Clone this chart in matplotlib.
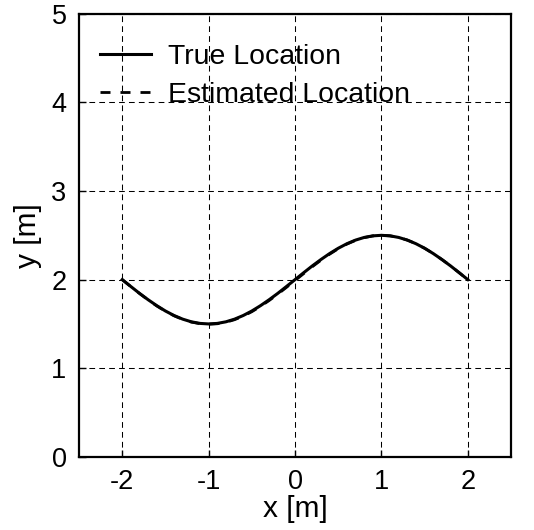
import matplotlib
matplotlib.use("Agg")
import matplotlib.pyplot as plt

plt.rcParams['font.family'] = ['Liberation Sans', 'DejaVu Sans']

x_true = [-2.0, -1.9, -1.8, -1.7, -1.6, -1.5, -1.4, -1.3, -1.2, -1.1, -1.0,
          -0.9, -0.8, -0.7, -0.6, -0.5, -0.4, -0.3, -0.2, -0.1, 0.0,
          0.1, 0.2, 0.3, 0.4, 0.5, 0.6, 0.7, 0.8, 0.9, 1.0,
          1.1, 1.2, 1.3, 1.4, 1.5, 1.6, 1.7, 1.8, 1.9, 2.0]
y_true = [2.000, 1.922, 1.845, 1.773, 1.706, 1.646, 1.595, 1.554, 1.524, 1.506, 1.500,
          1.506, 1.524, 1.554, 1.595, 1.646, 1.706, 1.773, 1.845, 1.922, 2.000,
          2.078, 2.155, 2.227, 2.294, 2.354, 2.405, 2.446, 2.476, 2.494, 2.500,
          2.494, 2.476, 2.446, 2.405, 2.354, 2.294, 2.227, 2.155, 2.078, 2.000]
x_est = [-2.0, -1.9, -1.8, -1.7, -1.6, -1.5, -1.4, -1.3, -1.2, -1.1, -1.0,
         -0.9, -0.8, -0.7, -0.6, -0.5, -0.4, -0.3, -0.2, -0.1, 0.0,
         0.1, 0.2, 0.3, 0.4, 0.5, 0.6, 0.7, 0.8, 0.9, 1.0,
         1.1, 1.2, 1.3, 1.4, 1.5, 1.6, 1.7, 1.8, 1.9, 2.0]
y_est = [2.000, 1.921, 1.844, 1.771, 1.703, 1.643, 1.592, 1.551, 1.521, 1.503, 1.497,
         1.502, 1.519, 1.548, 1.588, 1.638, 1.698, 1.764, 1.836, 1.912, 1.990,
         2.068, 2.146, 2.219, 2.287, 2.349, 2.401, 2.443, 2.474, 2.493, 2.500,
         2.494, 2.476, 2.446, 2.405, 2.354, 2.294, 2.227, 2.155, 2.078, 2.000]

xticks = [-2, -1, 0, 1, 2]
yticks = [0, 1, 2, 3, 4, 5]

fig = plt.figure(figsize=(5.34, 5.30), dpi=100)
ax = fig.add_axes([0.148, 0.138, 0.809, 0.836])
ax.plot(x_true, y_true, color='black', linewidth=2.2, linestyle='-', label='True Location')
ax.plot(x_est, y_est, color='black', linewidth=2.0, linestyle=(0, (3.6, 3.6)), label='Estimated Location')
ax.set_xlim(-2.5, 2.5)
ax.set_ylim(0, 5)
ax.set_xticks(xticks)
ax.set_yticks(yticks)
ax.set_xticklabels([str(t) for t in xticks])
ax.set_yticklabels([str(t) for t in yticks])
ax.grid(True, color='black', linestyle=(0, (5.5, 4)), linewidth=0.75)
ax.tick_params(direction='in', labelsize=19.5, length=5, width=1, top=False, right=False, pad=9)
for s in ax.spines.values():
    s.set_linewidth(1.6)
ax.set_xlabel('x [m]', fontsize=21.5, labelpad=0)
ax.set_ylabel('y [m]', fontsize=21.5, labelpad=7)
ax.legend(loc='upper left', bbox_to_anchor=(0.023, 0.957), frameon=False, fontsize=20.4,
          handlelength=1.8, borderaxespad=0, labelspacing=0.42, handletextpad=0.6)
fig.savefig('out.png', dpi=100)
